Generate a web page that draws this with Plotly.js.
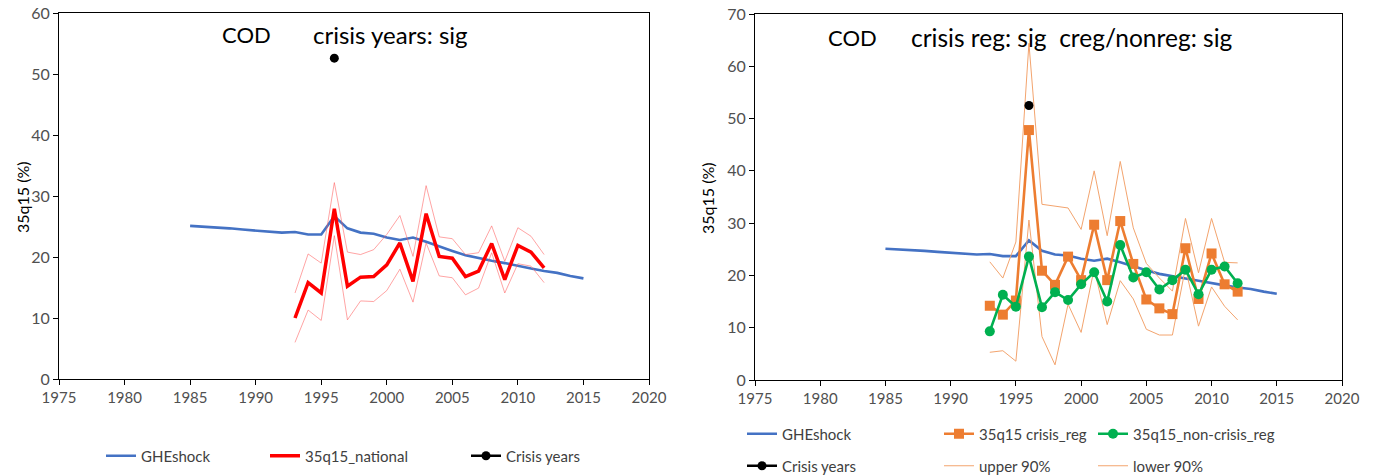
<!DOCTYPE html>
<html>
<head>
<meta charset="utf-8">
<script src="https://cdn.plot.ly/plotly-3.0.1.min.js"></script>
<style>
html,body{margin:0;padding:0;background:#fff;}
#chart{width:1378px;height:476px;}
</style>
</head>
<body>
<div id="chart"></div>
<script>
// ---------------- data ----------------
const gheYears = [1985,1986,1987,1988,1989,1990,1991,1992,1993,1994,1995,1996,1997,1998,1999,2000,2001,2002,2003,2004,2005,2006,2007,2008,2009,2010,2011,2012,2013,2014,2015];
const gheShock = [25.1,25.0,24.8,24.7,24.5,24.3,24.1,24.0,24.1,23.7,23.7,26.7,24.7,24.0,23.8,23.2,22.8,23.2,22.5,21.7,21.0,20.3,19.8,19.4,19.0,18.5,18.1,17.7,17.4,16.9,16.5];

const obsYears = [1993,1994,1995,1996,1997,1998,1999,2000,2001,2002,2003,2004,2005,2006,2007,2008,2009,2010,2011,2012];
const national      = [10.0,15.8,14.1,27.9,15.2,16.7,16.8,18.7,22.3,16.0,27.1,20.1,19.8,16.8,17.7,22.2,16.3,21.9,20.8,18.2];
const nationalUpper = [14.1,20.5,19.0,32.2,20.8,20.4,21.2,23.7,26.8,20.1,31.7,23.3,23.0,20.4,20.7,25.1,19.3,24.8,23.4,20.4];
const nationalLower = [6.0,11.3,9.6,23.5,9.7,12.8,12.7,14.5,18.0,12.6,22.3,16.9,16.6,13.8,14.9,20.7,14.1,18.9,18.5,15.8];

const crisisYears = [1996];
const crisisLeft = [52.6];
const crisisRight = [52.5];

const crisisReg    = [14.2,12.5,15.2,47.8,20.9,18.2,23.6,19.1,29.7,19.1,30.4,22.2,15.4,13.7,12.6,25.2,15.5,24.2,18.3,16.9];
const nonCrisisReg = [9.3,16.3,14.0,23.6,13.9,16.8,15.3,18.3,20.6,15.0,25.8,19.6,20.6,17.3,19.1,21.1,16.4,21.1,21.7,18.5];
const upper90      = [22.6,19.5,26.4,64.4,33.6,33.2,32.9,28.8,40.0,27.6,41.8,29.1,22.3,19.5,17.0,30.9,20.5,30.9,22.5,22.4];
const lower90      = [5.3,5.6,3.6,30.6,8.3,2.9,14.5,9.1,21.3,10.6,19.0,15.5,9.7,8.6,8.6,21.5,10.3,17.8,14.1,11.5];

const xTickYears = [1975,1980,1985,1990,1995,2000,2005,2010,2015,2020];

// ---------------- styles ----------------
const W = 1378, H = 476;
const FONT = 'Lato, "Open Sans", sans-serif';
const BLUE = '#4472C4', RED = '#FF0000', LRED = 'rgba(255,90,90,0.55)';
const ORANGE = '#ED7D31', GREEN = '#00B050', LORANGE = '#F3A46E', BLACK = '#000000';

function px(x){ return x / W; }
function py(y){ return 1 - y / H; }

const traces = [
  // left chart
  {x: gheYears, y: gheShock, mode:'lines', name:'GHEshock', line:{color:BLUE, width:2.6}, xaxis:'x', yaxis:'y', legend:'legend'},
  {x: obsYears, y: nationalUpper, mode:'lines', name:'upper', line:{color:LRED, width:1}, xaxis:'x', yaxis:'y', showlegend:false},
  {x: obsYears, y: nationalLower, mode:'lines', name:'lower', line:{color:LRED, width:1}, xaxis:'x', yaxis:'y', showlegend:false},
  {x: obsYears, y: national, mode:'lines', name:'35q15_national', line:{color:RED, width:3.5}, xaxis:'x', yaxis:'y', legend:'legend2'},
  {x: crisisYears, y: crisisLeft, mode:'lines+markers', name:'Crisis years', line:{color:BLACK, width:2.6}, marker:{color:BLACK, size:9, symbol:'circle'}, xaxis:'x', yaxis:'y', legend:'legend3'},
  // right chart
  {x: gheYears, y: gheShock, mode:'lines', name:'GHEshock', line:{color:BLUE, width:2.6}, xaxis:'x2', yaxis:'y2', legend:'legend4'},
  {x: obsYears, y: upper90, mode:'lines', name:'upper 90%', line:{color:LORANGE, width:1}, xaxis:'x2', yaxis:'y2', legend:'legend8'},
  {x: obsYears, y: lower90, mode:'lines', name:'lower 90%', line:{color:LORANGE, width:1}, xaxis:'x2', yaxis:'y2', legend:'legend9'},
  {x: obsYears, y: crisisReg, mode:'lines+markers', name:'35q15 crisis_reg', line:{color:ORANGE, width:2.6}, marker:{color:ORANGE, size:10, symbol:'square'}, xaxis:'x2', yaxis:'y2', legend:'legend5'},
  {x: obsYears, y: nonCrisisReg, mode:'lines+markers', name:'35q15_non-crisis_reg', line:{color:GREEN, width:2.6}, marker:{color:GREEN, size:10, symbol:'circle'}, xaxis:'x2', yaxis:'y2', legend:'legend6'},
  {x: crisisYears, y: crisisRight, mode:'lines+markers', name:'Crisis years', line:{color:BLACK, width:2.6}, marker:{color:BLACK, size:9, symbol:'circle'}, xaxis:'x2', yaxis:'y2', legend:'legend7'}
];

function xAxis(domain, anchor){
  return {domain: domain, anchor: anchor, range:[1975,2020], tickvals: xTickYears, ticktext: xTickYears.map(String),
    showline:true, mirror:true, linecolor:'#000', linewidth:1, ticks:'outside', ticklen:5, tickcolor:'#000',
    showgrid:false, zeroline:false, tickfont:{family:FONT, size:15, color:'#505050'}, fixedrange:true, automargin:false};
}
function yAxis(domain, anchor, max){
  return {domain: domain, anchor: anchor, range:[0,max], dtick:10, tick0:0,
    showline:true, mirror:true, linecolor:'#000', linewidth:1, ticks:'outside', ticklen:5, tickcolor:'#000',
    showgrid:false, zeroline:false, tickfont:{family:FONT, size:16, color:'#505050'}, fixedrange:true, automargin:false};
}
function leg(textX, yc){
  return {x: px(textX - 40), y: py(yc + 1), xanchor:'left', yanchor:'middle', orientation:'h',
    bgcolor:'rgba(0,0,0,0)', font:{family:FONT, size:15, color:'#404040'}, itemwidth:30};
}
function ann(text, x, y, size, angle){
  return {text:text, xref:'paper', yref:'paper', x:px(x), y:py(y), xanchor:'center', yanchor:'middle',
    textangle: angle || 0, showarrow:false, font:{family:FONT, size:size, color:'#000'}};
}

const layout = {
  width: W, height: H,
  margin:{l:0, r:0, t:0, b:0, autoexpand:false},
  paper_bgcolor:'#fff', plot_bgcolor:'#fff',
  xaxis: xAxis([px(59), px(649)], 'y'),
  yaxis: yAxis([py(379), py(13)], 'x', 60),
  xaxis2: xAxis([px(755), px(1342)], 'y2'),
  yaxis2: yAxis([py(380), py(14)], 'x2', 70),
  legend: leg(141, 455),
  legend2: leg(305, 455),
  legend3: leg(506, 455),
  legend4: leg(782, 433),
  legend5: leg(979, 433),
  legend6: leg(1133, 433),
  legend7: leg(782, 465),
  legend8: leg(979, 465),
  legend9: leg(1133, 465),
  annotations: [
    ann('COD', 247, 35, 22),
    ann('crisis years: sig', 390, 35, 24),
    ann('COD', 852, 38, 22),
    ann('crisis reg: sig\u00a0 creg/nonreg: sig', 1072, 38, 24.5),
    ann('35q15 (%)', 22, 197, 16, -90),
    ann('35q15 (%)', 707, 198, 16, -90)
  ]
};

Plotly.newPlot('chart', traces, layout, {displayModeBar:false, staticPlot:true});
</script>
</body>
</html>
